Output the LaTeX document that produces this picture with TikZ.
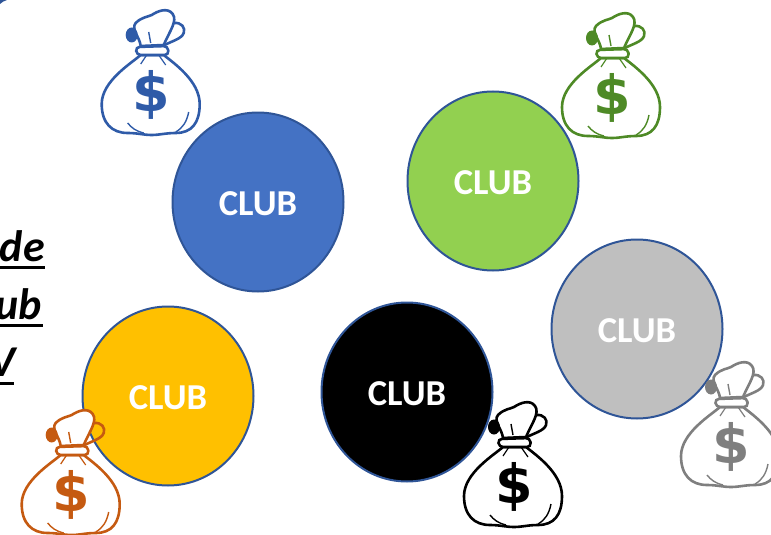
\documentclass[tikz,border=0pt]{standalone}
\usepackage{fontspec}
\setmainfont{Carlito}
\newfontfamily\dollarfont{DejaVu Sans}
\usetikzlibrary{shapes.geometric}

\definecolor{clubblue}{HTML}{4472C4}
\definecolor{clubgreen}{HTML}{92D050}
\definecolor{clubgrey}{HTML}{BFBFBF}
\definecolor{clubyellow}{HTML}{FFC000}
\definecolor{clubedge}{HTML}{2F5597}
\definecolor{bagblue}{HTML}{2F5BA8}
\definecolor{baggreen}{HTML}{4E8A26}
\definecolor{bagorange}{HTML}{C55A11}
\definecolor{baggrey}{HTML}{7F7F7F}

\tikzset{
  club/.style={ellipse, draw=clubedge, line width=2pt, fill=#1, text=white,
    minimum width=171pt, minimum height=179pt, inner sep=0pt, text height=27pt,
    font=\fontsize{36.5}{36.5}\selectfont\bfseries},
  sidetext/.style={anchor=base east, inner sep=0pt, text=black,
    font=\fontsize{44}{44}\selectfont\bfseries\itshape},
  pics/moneybag/.style={code={
    % loop, lobe and knot
    \draw [#1, line width=2.6pt] (22,-72) .. controls (30,-73) and (34,-67) .. (32,-62) .. controls (30,-56) and (20,-54) .. (11,-49);
    \draw [#1, line width=2.6pt, fill=white] (-11,-49) .. controls (-12,-58) and (-21,-66) .. (-16,-72) .. controls (-10,-78) and (-4,-78) .. (0,-80) .. controls (6,-84) and (16,-88) .. (21,-81) .. controls (26,-74) and (18,-64) .. (12,-50) -- cycle;
    \fill [#1] (-20,-60) ellipse (6 and 7.5);
    \draw [#1, line width=1.4pt] (-3,-63) -- (-1,-52);
    % body
    \draw [#1, line width=2.6pt, fill=white] (-11,-40) .. controls (-20,-32) and (-50,-14) .. (-50,9) .. controls (-50,28) and (-40,38) .. (-24,38) .. controls (-14,38) and (-8,40) .. (0,40) .. controls (8,40) and (14,38) .. (24,38) .. controls (40,38) and (48,28) .. (48,9) .. controls (48,-14) and (22,-32) .. (12,-40) -- cycle;
    \draw [#1, line width=1.4pt] (-24,28) .. controls (-20,33) and (-16,36) .. (-8,38);
    \draw [#1, line width=1.4pt] (37,17) .. controls (35,27) and (31,33) .. (24,37);
    \draw [#1, line width=1.2pt] (-5,-40) -- (-11,-31);
    \draw [#1, line width=1.2pt] (7,-40) -- (14,-30);
    % collar
    \draw [#1, line width=2.6pt, fill=white, rounded corners=4pt] (-16,-48) -- (16,-49) -- (17,-40) -- (-15,-40) -- cycle;
    \node [text=#1, inner sep=0pt, font=\fontsize{54}{54}\selectfont\bfseries\dollarfont] at (0,0) {\$};
  }},
}

\begin{document}
\begin{tikzpicture}[x=1pt, y=-1pt]
\useasboundingbox (0,0) rectangle (771,535);
\clip (0,0) rectangle (771,535);

\fill [clubedge] (0,0) -- (7,0) .. controls (4,1) and (2,2) .. (0,4) -- cycle;

\node [sidetext] (de) at (45,261) {de};
\node [sidetext] (ub) at (42,319) {ub};
\node [sidetext] (vee) at (16,376) {V};
\draw [line width=3pt] (0,267) -- (45,267);
\draw [line width=3pt] (0,325) -- (43,325);
\draw [line width=3pt] (0,383) -- (14,383);

\node [club=clubblue] (blue) at (258,202) {CLUB};
\node [club=clubgreen] (green) at (493,181) {CLUB};
\node [club=clubgrey] (grey) at (637,329) {CLUB};
\node [club=black] (dark) at (407,392) {CLUB};
\node [club=clubyellow] (yellow) at (168,396) {CLUB};

\pic at (151.7,95) {moneybag=bagblue};
\pic at (612,98) {moneybag=baggreen};
\pic at (71.7,495) {moneybag=bagorange};
\pic at (514,487) {moneybag=black};
\pic at (731,447) {moneybag=baggrey};
\end{tikzpicture}
\end{document}
